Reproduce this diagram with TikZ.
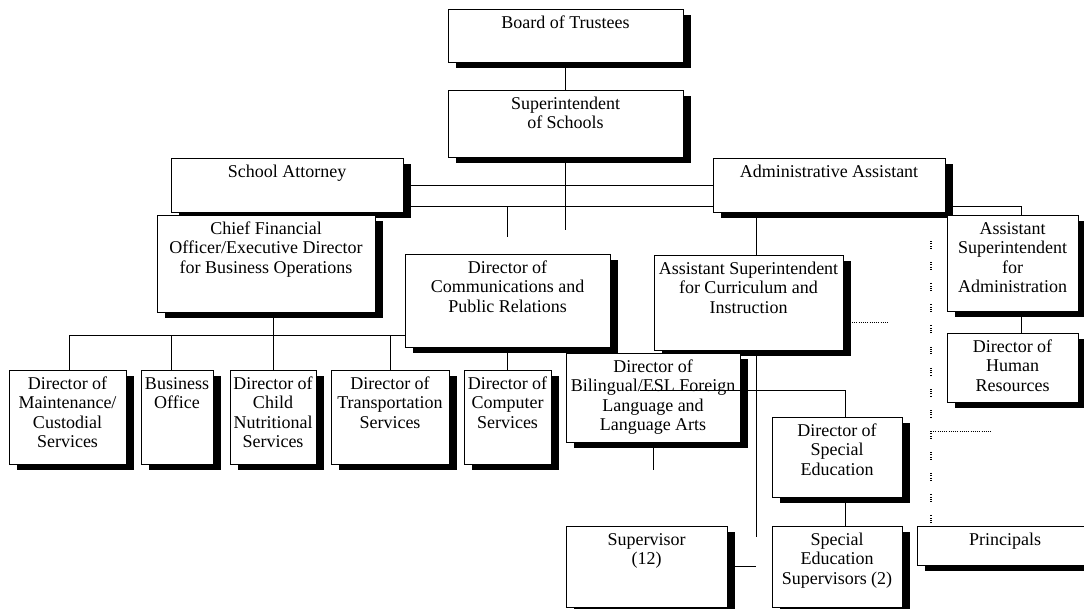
\documentclass[tikz,border=0pt]{standalone}
\usepackage{fontspec}
\setmainfont{Liberation Serif}
\usetikzlibrary{shadows,calc}
\pgfdeclarelayer{paper}
\pgfdeclarelayer{wires}
\pgfsetlayers{paper,wires,main}

% text block of a box: lines centred, set near the top edge
\newcommand\boxlabel[3]{\vbox to #2{\hsize=#1\relax\vskip 5.5pt
  \hbox to #1{\hss\begin{tabular}[t]{@{}c@{}}#3\end{tabular}\hss}\vss}}

\begin{document}
\begin{tikzpicture}[x=1pt,y=-1pt,
  font=\fontsize{18}{19.5}\selectfont,
  orgbox/.style={draw=black, line width=1pt, fill=white, inner sep=0pt,
    outer sep=0pt, anchor=north west,
    drop shadow={shadow xshift=8pt, shadow yshift=-6pt, fill=black,
      opacity=1, draw=none}},
  wire/.style={draw=black, line width=1pt},
  dotline/.style={line width=1pt, dash pattern=on 0.8pt off 1.4pt},
  dotgroups/.style={line width=1.2pt,
    dash pattern=on 0.8pt off 1.5pt on 0.8pt off 1.5pt on 0.8pt off 1.5pt on 0.8pt off 13.4pt}]

\useasboundingbox (0,0) rectangle (1084,608);
\begin{pgfonlayer}{paper}
  \fill[white] (0,0) rectangle (1084,608);
\end{pgfonlayer}

% boxes
\node[orgbox] (bot) at (448,9)   {\boxlabel{235pt}{53pt}{Board of Trustees}};
\node[orgbox] (sup) at (448,90)  {\boxlabel{235pt}{67pt}{Superintendent\\of Schools}};
\node[orgbox] (att) at (171,158) {\boxlabel{232pt}{54pt}{School Attorney}};
\node[orgbox] (adm) at (713,158) {\boxlabel{232pt}{54pt}{Administrative Assistant}};
\node[orgbox] (cfo) at (157,215) {\boxlabel{218pt}{97pt}{Chief Financial\\Officer/Executive Director\\for Business Operations}};
\node[orgbox] (asa) at (947,215) {\boxlabel{131pt}{96pt}{Assistant\\Superintendent\\for\\Administration}};
\node[orgbox] (com) at (405,254) {\boxlabel{205pt}{93pt}{Director of\\Communications and\\Public Relations}};
\node[orgbox] (cur) at (654,255) {\boxlabel{189pt}{95pt}{Assistant Superintendent\\for Curriculum and\\Instruction}};
\node[orgbox] (hr)  at (947,333) {\boxlabel{131pt}{69pt}{Director of\\Human\\Resources}};
\node[orgbox] (mnt) at (9,370)   {\boxlabel{117pt}{94pt}{Director of\\Maintenance/\\Custodial\\Services}};
\node[orgbox] (bus) at (141,370) {\boxlabel{72pt}{94pt}{Business\\Office}};
\node[orgbox] (cns) at (230,370) {\boxlabel{86pt}{94pt}{Director of\\Child\\Nutritional\\Services}};
\node[orgbox] (trn) at (331,370) {\boxlabel{118pt}{94pt}{Director of\\Transportation\\Services}};
\node[orgbox] (cmp) at (464,370) {\boxlabel{87pt}{94pt}{Director of\\Computer\\Services}};
\node[orgbox] (bil) at (566,353) {\boxlabel{174pt}{89pt}{Director of\\Bilingual/ESL Foreign\\Language and\\Language Arts}};
\node[orgbox] (spe) at (772,417) {\boxlabel{130pt}{80pt}{Director of\\Special\\Education}};
\node[orgbox] (sv)  at (566,526) {\boxlabel{161pt}{81pt}{Supervisor\\(12)}};
\node[orgbox] (ses) at (772,526) {\boxlabel{130pt}{81pt}{Special\\Education\\Supervisors (2)}};
\node[orgbox] (prn) at (917,526) {\boxlabel{176pt}{39pt}{Principals}};

% reporting lines, kept behind the boxes
\begin{pgfonlayer}{wires}
  \draw[wire] (bot) -- (sup);
  \draw[wire] (sup.south) -- (sup.south |- 0,230);
  \draw[wire] (att.east) -- (adm.west);
  \draw[wire] (att.east |- 0,206) -| ([xshift=8.5pt]asa.north);
  \draw[wire] (com.north |- 0,206) -- (com.north |- 0,237);
  \draw[wire] ([xshift=7.5pt]cur.north |- adm.south) -- ([xshift=7.5pt]cur.north);
  \draw[wire] ([xshift=7.5pt]cur.south) -- ++(0,187);
  \draw[wire] ([xshift=8.5pt]asa.south) -- ([xshift=8.5pt]hr.north);
  \draw[wire] (cns.north |- cfo.south) -- (cns.north);
  \draw[wire] ([xshift=1.5pt]mnt.north) |- (com.west |- 0,335);
  \draw[wire] ([xshift=-6pt]bus.north) -- ([xshift=-6pt]bus.north |- 0,335);
  \draw[wire] (trn.north) -- (trn.north |- 0,335);
  \draw[wire] (com.south) -- (cmp.north);
  \draw[wire] (bil.south) -- ++(0,28);
  \draw[wire] ([xshift=8pt]spe.south) -- ([xshift=8pt]ses.north);
  \draw[wire] (sv.east) -- ++(29,0);
\end{pgfonlayer}

% line running across the bilingual box to special education
\draw[wire] ([shift={(74,37)}]bil.north west) -| ([xshift=8pt]spe.north);

% dotted links
\coordinate (dtop) at ([shift={(14,-3)}]prn.north west);
\coordinate (dmid) at ([shift={(14,-95)}]prn.north west);
\draw[dotgroups] (dtop) -- ++(0,-291);
\draw[dotline] (dmid) -- ++(61,0);
\draw[dotline] ($(cur.east)+(9,19.5)$) -- ++(36,0);

\end{tikzpicture}
\end{document}
